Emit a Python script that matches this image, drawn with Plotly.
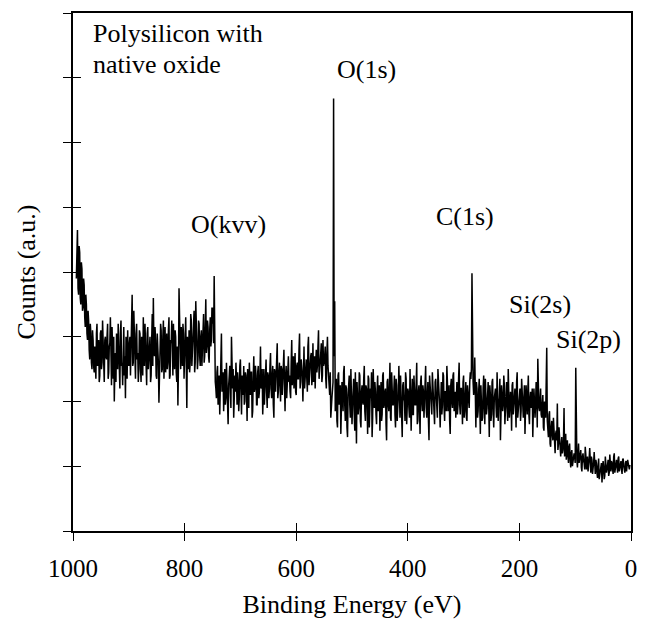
import plotly.graph_objects as go

# ---- data (y in arbitrary count units; full scale = 8 tick units) ----
# even-energy samples: first energy of each segment, step -2 eV
even_starts = [994, 960, 750, 534, 298, 160, 102]
even1 = [3.90, 4.65, 3.65, 4.30, 3.50, 4.05, 3.45, 3.80, 3.15, 3.50,
         2.95, 3.25, 2.65, 3.05, 2.50, 2.95, 2.45]
even2 = [2.70, 3.05, 2.55, 2.95, 2.40, 3.10, 2.60, 2.85, 2.30, 3.00,
         2.65, 3.20, 2.45, 2.90, 2.55, 3.15, 2.35, 2.00, 2.75, 3.05,
         2.50, 2.95, 2.20, 3.25, 2.60, 2.85, 2.40, 2.05, 2.80, 3.10,
         2.55, 3.00, 2.70, 3.65, 2.60, 2.95, 2.35, 3.20, 2.75, 2.50,
         3.05, 2.30, 2.90, 3.30, 2.55, 2.80, 2.25, 3.15, 2.65, 3.00,
         2.40, 3.35, 3.60, 2.70, 2.95, 2.35, 2.80, 1.98, 2.85, 3.10,
         2.50, 3.25, 2.75, 2.45, 3.05, 2.60, 3.30, 2.40, 2.90, 2.65,
         3.20, 2.50, 3.00, 2.30, 1.94, 3.75, 2.80, 3.15, 2.55, 3.05,
         2.70, 3.30, 1.90, 2.85, 3.10, 2.60, 3.25, 2.75, 3.05, 2.45,
         3.55, 2.90, 2.65, 3.20, 2.55, 3.10, 2.80, 3.35, 2.70, 3.58,
         2.85, 3.15, 2.60, 3.30, 2.95]
even3 = [3.20, 2.90, 2.60, 2.20, 2.45, 1.95, 2.40, 2.10, 3.05, 2.30,
         1.85, 2.50, 2.05, 2.35, 1.65, 2.45, 2.15, 3.00, 2.20, 1.75,
         2.40, 2.60, 1.95, 2.30, 2.05, 2.65, 1.80, 2.35, 2.55, 2.00,
         2.40, 1.70, 2.30, 2.60, 2.10, 2.45, 1.85, 2.70, 2.20, 2.40,
         1.95, 2.55, 2.15, 2.85, 2.25, 1.80, 2.50, 2.30, 2.65, 1.90,
         2.40, 2.20, 2.75, 2.05, 2.55, 1.75, 2.45, 2.30, 2.90, 2.15,
         2.60, 2.00, 2.50, 2.35, 2.80, 1.85, 2.55, 2.25, 2.70, 2.40,
         2.05, 2.95, 2.45, 2.20, 2.75, 2.10, 2.60, 2.35, 3.05, 2.30,
         2.55, 2.00, 2.85, 2.40, 2.65, 2.15, 3.00, 2.45, 2.70, 2.25,
         2.90, 2.50, 2.20, 2.80, 2.55, 3.10, 2.45, 2.75, 2.30, 2.95,
         2.60, 2.85, 2.20, 3.00, 2.40, 2.10, 1.75, 2.05]
even4 = [2.30, 2.70, 1.85, 2.35, 1.60, 2.45, 2.05, 1.50, 2.30, 1.85,
         2.55, 1.70, 2.20, 1.45, 2.35, 1.95, 2.50, 1.65, 2.15, 1.80,
         2.45, 1.35, 2.10, 1.90, 2.40, 1.60, 2.25, 1.95, 2.55, 1.70,
         2.20, 1.50, 2.35, 1.85, 2.05, 1.45, 2.50, 1.90, 2.15, 1.65,
         2.40, 2.00, 1.55, 2.30, 1.80, 2.45, 1.95, 2.20, 1.40, 2.35,
         1.85, 2.60, 1.70, 2.10, 1.95, 2.40, 1.60, 2.25, 1.85, 2.55,
         1.75, 2.15, 1.45, 2.30, 2.00, 2.45, 1.65, 2.20, 1.90, 2.50,
         1.55, 2.35, 1.80, 2.10, 1.95, 2.60, 1.70, 2.25, 1.50, 2.40,
         1.85, 2.15, 1.95, 2.55, 1.75, 2.30, 1.40, 2.20, 1.90, 2.45,
         2.05, 1.65, 2.35, 1.80, 2.50, 2.00, 1.60, 2.30, 1.95, 2.40,
         1.70, 2.15, 2.55, 1.85, 2.25, 1.50, 2.35, 1.90, 2.45, 2.05,
         1.75, 2.30, 1.95, 2.60, 1.80, 2.20, 1.65, 2.40]
even5 = [1.85, 2.30, 1.70, 2.15, 1.90, 2.45, 2.50, 2.55, 2.10, 2.68,
         1.60, 2.20, 1.85, 2.35, 1.50, 2.05, 1.75, 2.40, 1.65, 2.15,
         1.90, 2.30, 1.45, 2.10, 1.80, 2.35, 1.60, 2.20, 1.95, 2.45,
         1.70, 2.05, 1.40, 2.25, 1.85, 2.40, 1.65, 2.10, 1.90, 2.50,
         1.75, 2.15, 1.55, 2.30, 1.95, 2.20, 1.60, 2.45, 1.85, 2.10,
         1.70, 2.35, 1.90, 2.05, 1.50, 2.25, 1.80, 2.40, 1.65, 2.15,
         1.95, 1.45, 2.20, 1.75, 2.30, 1.60, 2.05, 1.85, 2.20]
even6 = [1.75, 2.10, 1.55, 1.95, 2.20, 1.70, 1.45, 1.85, 1.30, 1.70,
         1.40, 1.60, 1.20, 1.55, 1.97, 1.35, 1.50, 1.15, 1.45, 1.25,
         1.90, 1.30, 1.10, 1.40, 1.05, 1.35, 0.98, 1.25, 1.05]
even7 = [1.20, 1.05, 1.30, 0.98, 1.35, 1.10, 1.25, 0.92, 1.20, 1.05,
         1.30, 0.95, 1.15, 1.00, 1.28, 0.90, 1.10, 0.95, 1.22, 0.88,
         1.05, 0.82, 1.12, 0.85, 1.00, 0.75, 1.08, 0.80, 1.15, 0.90,
         1.02, 0.85, 1.18, 0.92, 1.05, 0.88, 1.20, 0.95, 1.10, 0.90,
         1.15, 0.98, 1.08, 0.88, 1.12, 0.95, 1.05, 0.92, 1.10, 0.98,
         1.02]

# odd-energy samples: first energy of each segment, step -2 eV
odd_starts = [993, 959, 749, 533, 297, 159, 101]
odd1 = [4.20, 3.75, 4.40, 3.60, 4.15, 3.40, 3.90, 3.30, 3.65, 3.05,
        3.40, 2.80, 3.20, 2.60, 3.10, 2.55, 2.85]
odd2 = [2.35, 3.20, 2.65, 2.30, 3.05, 2.50, 3.25, 2.45, 2.95, 2.70,
        3.00, 2.35, 2.85, 3.30, 2.25, 2.60, 3.00, 2.50, 2.30, 2.70,
        3.20, 2.45, 3.05, 2.55, 2.25, 3.15, 2.70, 3.00, 2.35, 2.60,
        2.90, 2.40, 3.25, 2.55, 3.40, 2.45, 3.05, 2.65, 2.30, 3.10,
        2.50, 3.00, 2.40, 2.65, 3.20, 2.35, 3.05, 2.50, 2.95, 2.30,
        2.95, 2.55, 2.85, 3.15, 2.40, 3.05, 2.60, 2.40, 3.20, 2.45,
        3.00, 2.35, 3.15, 2.80, 2.50, 3.10, 2.35, 2.95, 3.25, 2.40,
        2.75, 3.10, 2.45, 2.85, 2.55, 3.30, 2.50, 2.95, 3.20, 2.35,
        3.15, 2.60, 3.00, 2.50, 2.45, 3.35, 2.55, 2.90, 3.40, 2.60,
        3.05, 2.50, 3.25, 2.70, 3.00, 2.55, 3.30, 2.60, 3.15, 2.75,
        3.25, 2.70, 3.10, 2.85, 3.45]
odd3 = [3.45, 2.75, 2.30, 2.05, 2.55, 2.25, 1.80, 2.60, 2.15, 2.45,
        2.20, 1.95, 2.60, 1.85, 2.25, 2.55, 1.90, 2.35, 2.50, 2.05,
        2.15, 2.35, 2.45, 1.85, 2.55, 2.20, 2.40, 2.10, 1.95, 2.45,
        2.15, 2.50, 1.90, 2.20, 2.45, 1.75, 2.35, 2.15, 2.55, 1.95,
        2.45, 2.05, 2.40, 2.20, 2.50, 2.10, 1.95, 2.60, 2.15, 2.45,
        2.05, 2.55, 2.20, 2.40, 1.95, 2.50, 2.15, 2.65, 2.05, 2.45,
        2.25, 2.55, 2.10, 2.60, 2.25, 2.40, 2.05, 2.65, 2.30, 2.15,
        2.60, 2.25, 2.70, 2.45, 2.15, 2.55, 2.35, 2.80, 2.20, 2.65,
        2.40, 2.70, 2.20, 2.60, 2.35, 2.85, 2.25, 2.55, 2.75, 2.40,
        2.30, 2.70, 2.60, 2.45, 2.85, 2.35, 2.65, 2.90, 2.40, 2.55,
        2.70, 2.35, 2.75, 2.55, 2.20, 2.45, 1.90, 2.25]
odd4 = [2.50, 3.00, 2.15, 1.70, 2.40, 1.95, 2.25, 1.75, 2.10, 2.45,
        1.95, 2.25, 1.60, 2.10, 2.40, 1.75, 2.20, 1.95, 2.35, 1.55,
        2.05, 2.30, 1.80, 2.45, 1.70, 2.15, 2.00, 2.35, 1.85, 2.25,
        1.95, 2.40, 1.60, 2.20, 2.45, 1.75, 2.05, 2.30, 1.80, 2.20,
        1.85, 2.25, 2.10, 1.70, 2.40, 1.90, 2.15, 1.65, 2.30, 1.95,
        2.20, 1.75, 2.45, 1.95, 2.15, 1.80, 2.35, 1.70, 2.10, 2.00,
        2.40, 1.85, 2.25, 2.05, 1.70, 2.35, 1.90, 2.15, 1.75, 2.20,
        2.05, 1.80, 2.40, 1.95, 2.25, 1.65, 2.15, 1.85, 2.30, 2.00,
        2.25, 1.75, 2.35, 1.90, 2.10, 1.70, 2.40, 2.00, 1.80, 2.20,
        1.85, 2.30, 2.10, 1.75, 2.35, 1.95, 2.20, 1.80, 2.45, 1.90,
        2.15, 1.85, 2.30, 2.05, 1.70, 2.25, 2.00, 2.40, 1.85, 2.15,
        2.25, 1.80, 2.35, 1.95, 2.20, 2.00, 2.30, 1.75]
odd5 = [2.10, 1.75, 2.25, 1.95, 2.30, 2.35, 2.40, 2.30, 2.20, 2.00,
        2.30, 1.75, 2.15, 1.95, 2.25, 1.70, 2.20, 1.90, 2.35, 1.80,
        2.10, 1.95, 2.25, 1.70, 2.30, 1.85, 2.05, 2.20, 1.75, 2.15,
        2.00, 2.35, 1.80, 2.10, 1.95, 2.25, 1.85, 2.30, 1.70, 2.20,
        1.90, 2.05, 2.25, 1.80, 2.15, 1.95, 2.30, 1.75, 2.05, 2.20,
        1.85, 2.10, 1.75, 2.25, 1.95, 2.00, 2.15, 1.80, 2.05, 1.90,
        2.20, 1.85, 2.00, 1.95, 2.10, 2.40, 1.90, 2.05, 1.80]
odd6 = [1.95, 1.60, 2.00, 1.75, 2.30, 1.55, 1.80, 1.35, 1.60, 1.50,
        1.75, 1.30, 1.50, 1.40, 1.25, 1.60, 1.30, 1.45, 1.20, 1.40,
        1.15, 1.50, 1.25, 1.15, 1.30, 1.10, 1.20, 1.00, 1.15]
odd7 = [1.15, 1.30, 1.10, 1.25, 1.05, 1.20, 0.98, 1.15, 1.08, 0.95,
        1.18, 1.05, 0.92, 1.12, 1.00, 1.15, 0.88, 1.05, 0.98, 1.10,
        0.90, 1.00, 0.80, 0.95, 1.05, 0.88, 0.98, 0.85, 1.02, 0.95,
        1.10, 0.90, 1.00, 1.08, 0.95, 1.15, 0.90, 1.02, 0.98, 1.12,
        0.92, 1.05, 0.95, 1.10, 1.00, 0.90, 1.08, 0.98, 1.05, 0.95]

# sharp photoelectron peaks (binding energy eV, height) — override the samples there
peak_energy = [747, 533, 531, 285, 167, 151, 99]
peak_height = [3.94, 6.68, 3.55, 3.98, 2.66, 2.83, 2.52]

# peak labels
label_text = ["O(kvv)", "O(1s)", "C(1s)", "Si(2s)", "Si(2p)"]
label_x = [722, 474, 298, 163, 76]
label_y = [4.73, 7.12, 4.86, 3.50, 2.96]

x_ticks = [0, 200, 400, 600, 800, 1000]
y_ticks = [0, 1, 2, 3, 4, 5, 6, 7, 8]

# ---- assemble spectrum ----
spec = {}
for starts, segs in ((even_starts, [even1, even2, even3, even4, even5, even6, even7]),
                     (odd_starts, [odd1, odd2, odd3, odd4, odd5, odd6, odd7])):
    for start, seg in zip(starts, segs):
        for i, v in enumerate(seg):
            spec[start - 2 * i] = v
for e, h in zip(peak_energy, peak_height):
    spec[e] = h
energy = sorted(spec, reverse=True)
counts = [spec[e] for e in energy]

FONT = "Liberation Serif"

fig = go.Figure()
fig.add_trace(go.Scatter(x=energy, y=counts, mode="lines",
                         line=dict(color="black", width=1.5),
                         showlegend=False, hoverinfo="skip"))
# helper trace for the overlay axes (inside tick marks)
fig.add_trace(go.Scatter(x=[None], y=[None], xaxis="x2", yaxis="y2",
                         showlegend=False, hoverinfo="skip"))

for t, x, y in zip(label_text, label_x, label_y):
    fig.add_annotation(x=x, y=y, text=t, showarrow=False,
                       xanchor="center", yanchor="middle",
                       font=dict(family=FONT, size=26, color="black"))

fig.add_annotation(xref="paper", yref="paper", x=0.033, y=0.960,
                   text="Polysilicon with", showarrow=False,
                   xanchor="left", yanchor="middle",
                   font=dict(family=FONT, size=26, color="black"))
fig.add_annotation(xref="paper", yref="paper", x=0.033, y=0.900,
                   text="native oxide", showarrow=False,
                   xanchor="left", yanchor="middle",
                   font=dict(family=FONT, size=26, color="black"))

common_x = dict(range=[1000, 0], tickvals=x_ticks, showgrid=False,
                zeroline=False, tickcolor="black", ticklen=8, tickwidth=1.2)
common_y = dict(range=[0, 8], tickvals=y_ticks, showgrid=False,
                zeroline=False, tickcolor="black", ticklen=8, tickwidth=1.2)

fig.update_layout(
    width=646, height=628,
    margin=dict(l=73, r=9, t=13, b=97),
    paper_bgcolor="white", plot_bgcolor="white",
    font=dict(family=FONT, color="black"),
    xaxis=dict(**common_x, ticks="outside", showline=True, linecolor="black",
               linewidth=1.5, mirror=True,
               tickfont=dict(family=FONT, size=25, color="black"),
               ticklabelstandoff=6,
               title=dict(text="Binding Energy (eV)", standoff=14,
                          font=dict(family=FONT, size=26, color="black"))),
    yaxis=dict(**common_y, ticks="outside", showline=True, linecolor="black",
               linewidth=1.5, mirror=True, showticklabels=False,
               title=dict(text="Counts (a.u.)", standoff=20,
                          font=dict(family=FONT, size=26, color="black"))),
    xaxis2=dict(**common_x, overlaying="x", anchor="y", side="bottom",
                ticks="inside", showline=False, showticklabels=False),
    yaxis2=dict(**common_y, overlaying="y", anchor="x", side="left",
                ticks="inside", showline=False, showticklabels=False),
)

fig.write_html("out.html")
